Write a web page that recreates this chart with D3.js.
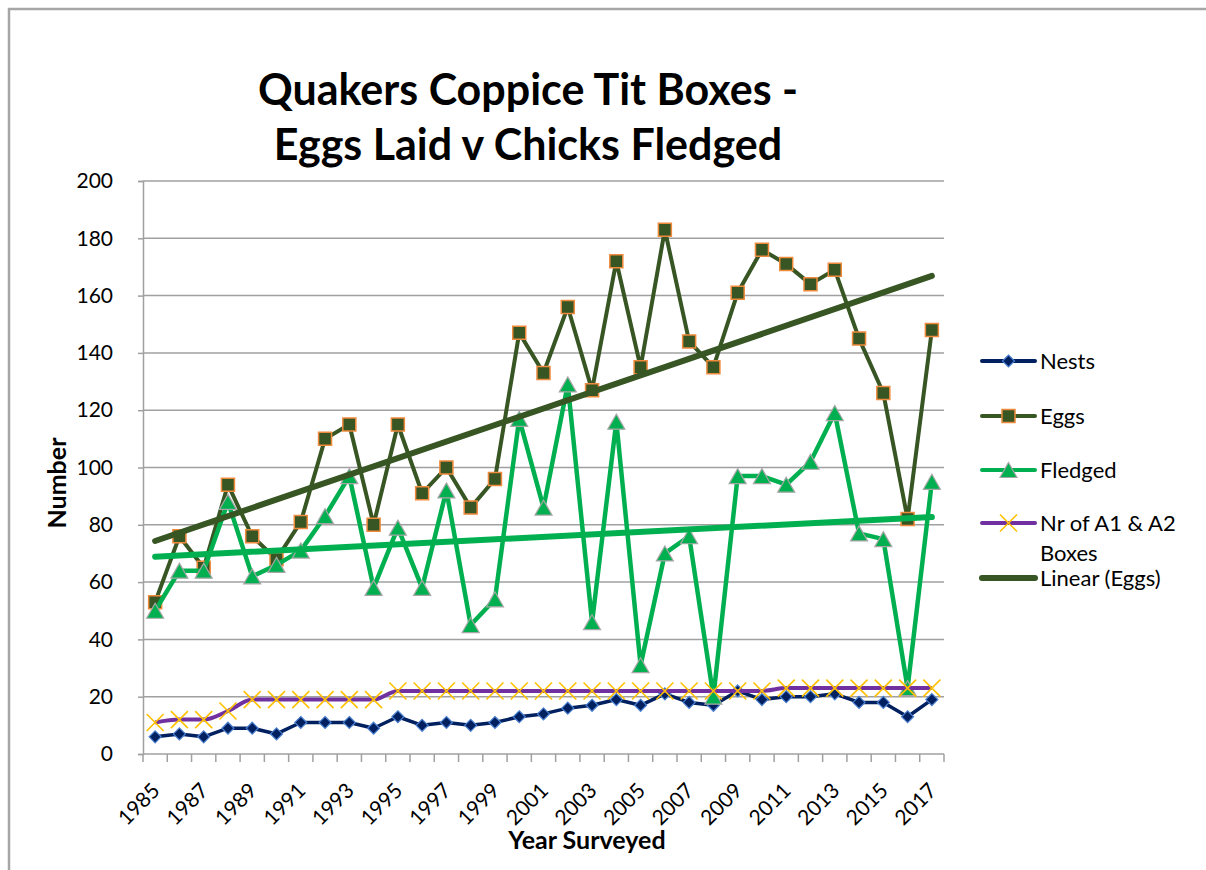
<!DOCTYPE html>
<html>
<head>
<meta charset="utf-8">
<script src="https://cdn.jsdelivr.net/npm/d3@7"></script>
<style>
  body { margin: 0; background: #fff; }
  text { font-family: Lato, "Open Sans", sans-serif; }
</style>
</head>
<body>
<div id="chart"></div>
<script>
// categories
var years = [1985, 1986, 1987, 1988, 1989, 1990, 1991, 1992, 1993, 1994, 1995,
             1996, 1997, 1998, 1999, 2000, 2001, 2002, 2003, 2004, 2005, 2006,
             2007, 2008, 2009, 2010, 2011, 2012, 2013, 2014, 2015, 2016, 2017];

// series values
var nests   = [6, 7, 6, 9, 9, 7, 11, 11, 11, 9, 13, 10, 11, 10, 11, 13, 14, 16, 17, 19, 17, 21,
               18, 17, 22, 19, 20, 20, 21, 18, 18, 13, 19];
var eggs    = [53, 76, 65, 94, 76, 68, 81, 110, 115, 80, 115, 91, 100, 86, 96, 147, 133, 156, 127, 172, 135, 183,
               144, 135, 161, 176, 171, 164, 169, 145, 126, 82, 148];
var fledged = [50, 64, 64, 88, 62, 66, 71, 83, 97, 58, 79, 58, 92, 45, 54, 117, 86, 129, 46, 116, 31, 70,
               76, 20, 97, 97, 94, 102, 119, 77, 75, 23, 95];
var boxes   = [11, 12, 12, 15, 19, 19, 19, 19, 19, 19, 22, 22, 22, 22, 22, 22, 22, 22, 22, 22, 22, 22,
               22, 22, 22, 22, 23, 23, 23, 23, 23, 23, 23];

// tick labels
var yTicks = [0, 20, 40, 60, 80, 100, 120, 140, 160, 180, 200];
var xLabels = years.filter(function (d, i) { return i % 2 === 0; });

var legendNames = ["Nests", "Eggs", "Fledged", "Nr of A1 & A2|Boxes", "Linear (Eggs)"];

var width = 1206, height = 870;
var plot = {left: 143, right: 944, top: 181, bottom: 754};

var svg = d3.select("#chart").append("svg")
    .attr("width", width)
    .attr("height", height);

svg.append("rect")
    .attr("width", width).attr("height", height)
    .attr("fill", "#fff");

// chart area border (runs off the right / bottom)
svg.append("rect")
    .attr("x", 9).attr("y", 9)
    .attr("width", 1300).attr("height", 1000)
    .attr("fill", "none")
    .attr("stroke", "#a6a6a6")
    .attr("stroke-width", 2.5);

var x = d3.scaleBand()
    .domain(years)
    .range([plot.left, plot.right]);

var cx = function (d) { return x(d) + x.bandwidth() / 2; };

var y = d3.scaleLinear()
    .domain([0, 200])
    .range([plot.bottom, plot.top]);

// gridlines
svg.append("g").selectAll("line")
    .data(yTicks.slice(1))
    .enter().append("line")
    .attr("x1", plot.left).attr("x2", plot.right)
    .attr("y1", function (d) { return y(d); })
    .attr("y2", function (d) { return y(d); })
    .attr("stroke", "#a0a0a0")
    .attr("stroke-width", 1.5);

// y axis
var yAxis = svg.append("g")
    .attr("transform", "translate(" + plot.left + ",0)")
    .call(d3.axisLeft(y).tickValues(yTicks).tickSize(5).tickPadding(25));
yAxis.select(".domain").attr("stroke", "#a0a0a0").attr("stroke-width", 1.5);
yAxis.selectAll(".tick line").attr("stroke", "#a0a0a0").attr("stroke-width", 1.5);
yAxis.selectAll(".tick text")
    .attr("font-family", "Lato, sans-serif")
    .attr("font-size", "21px")
    .attr("fill", "#000");

// x axis
var xAxis = svg.append("g");
xAxis.append("line")
    .attr("x1", plot.left).attr("x2", plot.right)
    .attr("y1", plot.bottom).attr("y2", plot.bottom)
    .attr("stroke", "#a0a0a0").attr("stroke-width", 1.5);
xAxis.selectAll(".xt")
    .data(years.concat(["end"]))
    .enter().append("line")
    .attr("class", "xt")
    .attr("x1", function (d) { return d === "end" ? plot.right : x(d); })
    .attr("x2", function (d) { return d === "end" ? plot.right : x(d); })
    .attr("y1", plot.bottom).attr("y2", plot.bottom + 8)
    .attr("stroke", "#a0a0a0").attr("stroke-width", 1.5);
xAxis.selectAll(".xl")
    .data(xLabels)
    .enter().append("text")
    .attr("class", "xl")
    .attr("transform", function (d) {
        return "translate(" + (cx(d) + 6) + "," + (plot.bottom + 38) + ") rotate(-45)";
    })
    .attr("text-anchor", "end")
    .attr("font-size", "21px")
    .text(function (d) { return d; });

// axis titles
svg.append("text")
    .attr("x", 587).attr("y", 849)
    .attr("text-anchor", "middle")
    .attr("font-weight", "bold")
    .attr("font-size", "25px")
    .text("Year Surveyed");

svg.append("text")
    .attr("transform", "translate(66,483) rotate(-90)")
    .attr("text-anchor", "middle")
    .attr("font-weight", "bold")
    .attr("font-size", "25px")
    .text("Number");

// title
var title = svg.append("text")
    .attr("text-anchor", "middle")
    .attr("font-weight", "bold")
    .attr("font-size", "43px");
title.append("tspan").attr("x", 528).attr("y", 105).text("Quakers Coppice Tit Boxes -");
title.append("tspan").attr("x", 528).attr("y", 160).text("Eggs Laid v Chicks Fledged");

// markers
function diamond(s) { return "M0," + (-s) + "L" + s + ",0L0," + s + "L" + (-s) + ",0Z"; }
function square(s) { return "M" + (-s) + "," + (-s) + "H" + s + "V" + s + "H" + (-s) + "Z"; }
function triangle(w, h) { return "M0," + (-h / 2) + "L" + (w / 2) + "," + (h / 2) + "L" + (-w / 2) + "," + (h / 2) + "Z"; }
function cross(s) { return "M" + (-s) + "," + (-s) + "L" + s + "," + s + "M" + (-s) + "," + s + "L" + s + "," + (-s); }

var series = [
    {name: "Nests", values: nests, color: "#002060", lw: 3.5, curve: d3.curveLinear,
     marker: diamond(6), mfill: "#002060", mstroke: "#4a7fd0", msw: 1.2},
    {name: "Eggs", values: eggs, color: "#375623", lw: 4, curve: d3.curveLinear,
     marker: square(6.5), mfill: "#375623", mstroke: "#f08a3c", msw: 1.5},
    {name: "Fledged", values: fledged, color: "#00b050", lw: 4.5, curve: d3.curveLinear,
     marker: triangle(17, 15), mfill: "#00b050", mstroke: "#a6a6a6", msw: 1.2},
    {name: "Boxes", values: boxes, color: "#7030a0", lw: 4, curve: d3.curveMonotoneX,
     marker: cross(8.5), mfill: "none", mstroke: "#ffc000", msw: 1.6}
];

function trend(vals) {
    var n = vals.length, sx = 0, sy = 0, sxy = 0, sxx = 0;
    vals.forEach(function (v, i) { sx += i; sy += v; sxy += i * v; sxx += i * i; });
    var b = (n * sxy - sx * sy) / (n * sxx - sx * sx);
    var a = (sy - b * sx) / n;
    return [a, a + b * (n - 1)];
}

series.forEach(function (s) {
    var pts = years.map(function (yr, i) { return [cx(yr), y(s.values[i])]; });
    svg.append("path")
        .attr("d", d3.line().curve(s.curve)(pts))
        .attr("fill", "none")
        .attr("stroke", s.color)
        .attr("stroke-width", s.lw)
        .attr("stroke-linejoin", "round");
    svg.append("g").selectAll("path")
        .data(pts)
        .enter().append("path")
        .attr("transform", function (p) { return "translate(" + p[0] + "," + p[1] + ")"; })
        .attr("d", s.marker)
        .attr("fill", s.mfill)
        .attr("stroke", s.mstroke)
        .attr("stroke-width", s.msw);
});

// linear trendlines
[{values: fledged, color: "#00b050"}, {values: eggs, color: "#375623"}].forEach(function (t) {
    var ends = trend(t.values);
    svg.append("line")
        .attr("x1", cx(years[0])).attr("y1", y(ends[0]))
        .attr("x2", cx(years[years.length - 1])).attr("y2", y(ends[1]))
        .attr("stroke", t.color)
        .attr("stroke-width", 6)
        .attr("stroke-linecap", "round");
});

// legend
var legendY = [361, 416, 470, 523, 578];
var leg = svg.append("g");
legendNames.forEach(function (name, i) {
    var g = leg.append("g").attr("transform", "translate(982," + legendY[i] + ")");
    var s = series[i];
    g.append("line")
        .attr("x1", 0).attr("x2", 53)
        .attr("stroke", s ? s.color : "#375623")
        .attr("stroke-width", s ? 4 : 6)
        .attr("stroke-linecap", "round");
    if (s) {
        g.append("path")
            .attr("transform", "translate(26.5,0)")
            .attr("d", s.marker)
            .attr("fill", s.mfill)
            .attr("stroke", s.mstroke)
            .attr("stroke-width", s.msw);
    }
    var lines = name.split("|");
    lines.forEach(function (ln, j) {
        g.append("text")
            .attr("x", 58).attr("y", j * 30)
            .attr("dy", "0.35em")
            .attr("font-size", "22px")
            .text(ln);
    });
});
</script>
</body>
</html>
